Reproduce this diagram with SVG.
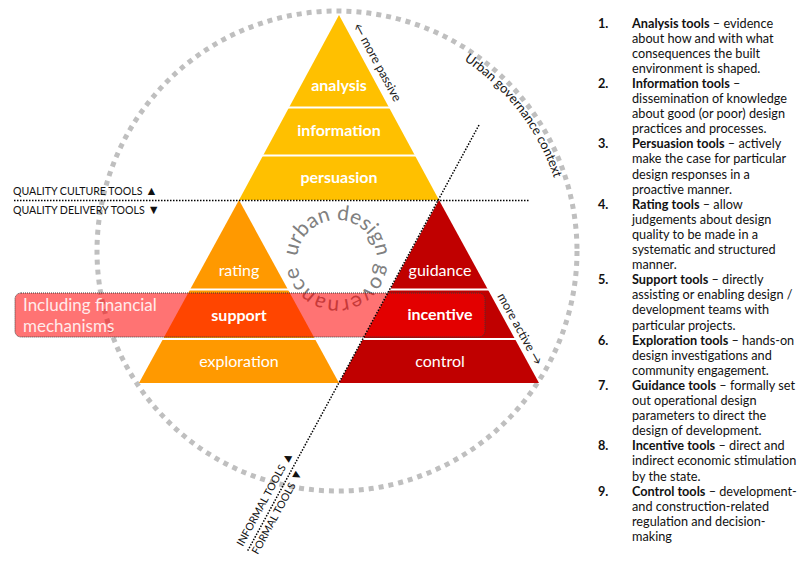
<svg xmlns="http://www.w3.org/2000/svg" width="800" height="565" viewBox="0 0 800 565">
<style>
text{font-family:Lato,"Liberation Sans",sans-serif}
.lbl{font-size:16px;fill:#fff;text-anchor:middle}
.b{font-weight:bold}
.sep{stroke:#fff;stroke-width:2.2}
.dot{fill:none;stroke:#000;stroke-width:1.5;stroke-dasharray:1.5 1.5}
.side{font-size:12.5px;fill:#222}
.tag{font-size:10.6px;fill:#111}
.tri{font-size:12.5px}
.list{font-size:12.7px;fill:#111}
</style>
<defs>
<path id="ringPath" d="M108,251 A229,229 0 1 1 566,251 A229,229 0 1 1 108,251"/>
<path id="udgPath" d="M297,260 A40,40 0 1 1 377,260 A40,40 0 1 1 297,260"/>
</defs>
<rect width="800" height="565" fill="#fff"/>
<g id="context-ring">
<circle cx="337" cy="251" r="240" fill="none" stroke="#BFBFBF" stroke-width="5" stroke-dasharray="5 5"/>
<text font-size="13" fill="#111" text-anchor="middle"><textPath href="#ringPath" startOffset="39.6%">Urban governance context</textPath></text>
</g>
<g id="udg-label">
<text font-size="21" fill="#808080" text-anchor="middle"><textPath href="#udgPath" startOffset="25%">urban design</textPath></text>
<text font-size="21" fill="#808080" text-anchor="middle" letter-spacing="1"><textPath href="#udgPath" startOffset="74.6%">governance</textPath></text>
</g>
<g id="tri-top">
<polygon points="339,15 239,200 439,200" fill="#FFC000"/>
<line class="sep" x1="288" y1="107.5" x2="390" y2="107.5"/>
<line class="sep" x1="262" y1="155.5" x2="416" y2="155.5"/>
</g>
<g id="tri-left">
<polygon points="239,200 139,383 339,383" fill="#FF9900"/>
<line class="sep" x1="189" y1="289.5" x2="289" y2="289.5"/>
<line class="sep" x1="162" y1="339" x2="316" y2="339"/>
</g>
<g id="tri-right">
<polygon points="439,200 339,383 539,383" fill="#C00000"/>
<line class="sep" x1="389" y1="289.5" x2="489" y2="289.5"/>
<line class="sep" x1="362" y1="339" x2="516" y2="339"/>
</g>
<g id="financial-box">
<rect x="15" y="293" width="470" height="44" rx="6" fill="#FF0000" fill-opacity="0.55" stroke="#3a3a3a" stroke-width="1" stroke-dasharray="1 1"/>
<text x="23" y="311" font-size="17" fill="#FFEAEA">Including financial</text>
<text x="23" y="332" font-size="17" fill="#FFEAEA">mechanisms</text>
</g>
<g id="tool-labels">
<text class="lbl b" x="339" y="91">analysis</text>
<text class="lbl b" x="339" y="136">information</text>
<text class="lbl b" x="339" y="183">persuasion</text>
<text class="lbl" x="239" y="276">rating</text>
<text class="lbl b" x="239" y="321">support</text>
<text class="lbl" x="239" y="367">exploration</text>
<text class="lbl" x="440" y="276">guidance</text>
<text class="lbl b" x="440" y="320">incentive</text>
<text class="lbl" x="440" y="367">control</text>
</g>
<g id="connectors">
<path class="dot" d="M14,200.5 H530"/>
<path class="dot" d="M479,125 L247,552"/>
</g>
<g id="axis-labels">
<text class="tag" x="13" y="195">QUALITY CULTURE TOOLS <tspan class="tri">▲</tspan></text>
<text class="tag" x="13" y="214">QUALITY DELIVERY TOOLS <tspan class="tri">▼</tspan></text>
<text class="tag" transform="translate(242.8,546.9) rotate(-61.4)">INFORMAL TOOLS <tspan class="tri">▲</tspan></text>
<text class="tag" transform="translate(257.8,555.1) rotate(-61.4)">FORMAL TOOLS <tspan class="tri">▼</tspan></text>
<text class="side" transform="translate(353,26) rotate(61.6)">← more passive</text>
<text class="side" transform="translate(497,296) rotate(61.1)">more active →</text>
</g>
<g id="legend" class="list">
<text class="list b" x="598" y="27.5">1.</text>
<text class="list b" x="598" y="87.9">2.</text>
<text class="list b" x="598" y="148.3">3.</text>
<text class="list b" x="598" y="208.7">4.</text>
<text class="list b" x="598" y="284.2">5.</text>
<text class="list b" x="598" y="344.6">6.</text>
<text class="list b" x="598" y="390">7.</text>
<text class="list b" x="598" y="450.3">8.</text>
<text class="list b" x="598" y="495.6">9.</text>
<text class="list" x="632" y="27.5"><tspan class="b">Analysis tools</tspan> – evidence<tspan x="632" dy="15.1">about how and with what</tspan><tspan x="632" dy="15.1">consequences the built</tspan><tspan x="632" dy="15.1">environment is shaped.</tspan></text>
<text class="list" x="632" y="87.9"><tspan class="b">Information tools</tspan> –<tspan x="632" dy="15.1">dissemination of knowledge</tspan><tspan x="632" dy="15.1">about good (or poor) design</tspan><tspan x="632" dy="15.1">practices and processes.</tspan></text>
<text class="list" x="632" y="148.3"><tspan class="b">Persuasion tools</tspan> – actively<tspan x="632" dy="15.1">make the case for particular</tspan><tspan x="632" dy="15.1">design responses in a</tspan><tspan x="632" dy="15.1">proactive manner.</tspan></text>
<text class="list" x="632" y="208.7"><tspan class="b">Rating tools</tspan> – allow<tspan x="632" dy="15.1">judgements about design</tspan><tspan x="632" dy="15.1">quality to be made in a</tspan><tspan x="632" dy="15.1">systematic and structured</tspan><tspan x="632" dy="15.1">manner.</tspan></text>
<text class="list" x="632" y="284.2"><tspan class="b">Support tools</tspan> – directly<tspan x="632" dy="15.1">assisting or enabling design /</tspan><tspan x="632" dy="15.1">development teams with</tspan><tspan x="632" dy="15.1">particular projects.</tspan></text>
<text class="list" x="632" y="344.6"><tspan class="b">Exploration tools</tspan> – hands-on<tspan x="632" dy="15.1">design investigations and</tspan><tspan x="632" dy="15.1">community engagement.</tspan></text>
<text class="list" x="632" y="390"><tspan class="b">Guidance tools</tspan> – formally set<tspan x="632" dy="15.1">out operational design</tspan><tspan x="632" dy="15.1">parameters to direct the</tspan><tspan x="632" dy="15.1">design of development.</tspan></text>
<text class="list" x="632" y="450.3"><tspan class="b">Incentive tools</tspan> – direct and<tspan x="632" dy="15.1">indirect economic stimulation</tspan><tspan x="632" dy="15.1">by the state.</tspan></text>
<text class="list" x="632" y="495.6"><tspan class="b">Control tools</tspan> – development-<tspan x="632" dy="15.1">and construction-related</tspan><tspan x="632" dy="15.1">regulation and decision-</tspan><tspan x="632" dy="15.1">making</tspan></text>
</g>
</svg>
